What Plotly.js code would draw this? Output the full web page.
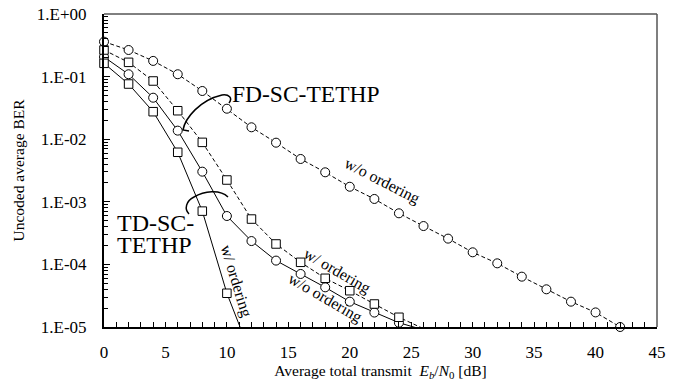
<!DOCTYPE html>
<html>
<head>
<meta charset="utf-8">
<script src="https://cdn.plot.ly/plotly-3.0.1.min.js"></script>
<style>html,body{margin:0;padding:0;background:#fff;}#chart{width:681px;height:381px;}</style>
</head>
<body>
<div id="chart"></div>
<script>
// ---- Data ----
const xFdWo = [0,2,4,6,8,10,12,14,16,18,20,22,24,26,28,30,32,34,36,38,40,42];
const berFdWo = [0.361,0.266,0.178,0.109,0.0589,0.0307,0.0155,8.8e-3,4.83e-3,2.96e-3,1.74e-3,1.11e-3,6.55e-4,4.1e-4,2.58e-4,1.56e-4,1.04e-4,6.37e-5,4.0e-5,2.54e-5,1.71e-5,1.0e-5];

const xFdW = [0,2,4,6,8,10,12,14,16,18,20,22,24,26];
const berFdW = [0.266,0.169,0.0851,0.0285,0.0089,2.23e-3,5.3e-4,2.12e-4,1.08e-4,6.0e-5,3.8e-5,2.33e-5,1.43e-5,9.4e-6];

const xTdWo = [0,2,4,6,8,10,12,14,16,18,20,22,24,26];
const berTdWo = [0.206,0.109,0.046,0.0137,3.03e-3,5.93e-4,2.36e-4,1.15e-4,7.03e-5,4.3e-5,2.54e-5,1.7e-5,1.17e-5,9.0e-6];

const xTdW = [0,2,4,6,8,10,12];
const berTdW = [0.163,0.0761,0.0275,0.00618,7.1e-4,3.46e-5,3.4e-6];

// last point of these series is only the continuation of the line (no marker)
const tailFdW = true, tailTdWo = true, tailTdW = true;

const yTickVals = [1,0.1,0.01,0.001,0.0001,0.00001];
const yTickText = ['1.E+00','1.E-01','1.E-02','1.E-03','1.E-04','1.E-05'];
const xTickVals = [0,5,10,15,20,25,30,35,40,45];

// ---- Styling ----
const FONT = '"Liberation Serif", "Times New Roman", serif';
const W = 681, H = 381, ML = 104, MR = 24, MT = 14, MB = 54;
const PW = W - ML - MR, PH = H - MT - MB;
function px(x){ return (x - ML) / PW; }
function py(y){ return (MT + PH - y) / PH; }
function P(x,y){ return px(x).toFixed(4) + ',' + py(y).toFixed(4); }

function sizes(n, s, tail){ return Array.from({length:n}, (_,i)=> (tail && i===n-1) ? 0 : s); }

const CIRC = 9, SQ = 8.5;
function trace(x, y, sym, sz, dash, tail){
  return {
    x: x, y: y, type: 'scatter', mode: 'lines+markers',
    line: {color: '#000', width: 1, dash: dash},
    marker: {symbol: sym, size: sizes(x.length, sz, tail), color: '#fff', opacity: 1, line: {color: '#000', width: 1}},
    cliponaxis: false, showlegend: false, hoverinfo: 'skip'
  };
}

const data = [
  trace(xFdWo, berFdWo, 'circle', CIRC, '4px,2.5px', false),
  trace(xTdWo, berTdWo, 'circle', CIRC, 'solid', tailTdWo),
  trace(xFdW, berFdW, 'square', SQ, '4px,2.5px', tailFdW),
  trace(xTdW, berTdW, 'square', SQ, 'solid', tailTdW)
];

// minor tick values for the log axis
const yMinor = [];
for (let e = -5; e < 0; e++) for (let m = 2; m <= 9; m++) yMinor.push(m * Math.pow(10, e));

function lab(text, x, y, angle, size, xa){
  return {xref:'paper', yref:'paper', x: px(x), y: py(y), text: text, showarrow: false,
    textangle: angle || 0, xanchor: xa || 'center', yanchor: 'middle',
    font: {family: FONT, size: size || 16, color: '#000'}};
}

const layout = {
  width: W, height: H,
  margin: {l: ML, r: MR, t: MT, b: MB, pad: 0},
  paper_bgcolor: '#fff', plot_bgcolor: '#fff',
  font: {family: FONT, color: '#000', size: 17},
  xaxis: {
    range: [0, 45], tickvals: xTickVals, ticks: 'inside', ticklen: 5, tickwidth: 1, tickcolor: '#000',
    minor: {dtick: 1, ticks: 'inside', ticklen: 5, tickwidth: 1, tickcolor: '#000', showgrid: false},
    showline: true, linecolor: '#000', linewidth: 2, showgrid: false, zeroline: false,
    ticklabelstandoff: 9,
    tickfont: {family: FONT, size: 17, color: '#000'},
    title: {text: 'Average total transmit  <i>E<sub>b</sub></i>/<i>N</i><sub>0</sub> [dB]', font: {family: FONT, size: 15.5, color: '#000'}, standoff: 4}
  },
  yaxis: {
    type: 'log', range: [-5, 0], tickvals: yTickVals, ticktext: yTickText,
    ticks: 'inside', ticklen: 6, tickwidth: 1, tickcolor: '#000',
    minor: {tickvals: yMinor, ticks: 'inside', ticklen: 4, tickwidth: 1, tickcolor: '#000', showgrid: false},
    showline: true, linecolor: '#000', linewidth: 2, showgrid: false, zeroline: false,
    ticklabelstandoff: 12,
    tickfont: {family: FONT, size: 17, color: '#000'},
    title: {text: 'Uncoded average BER', font: {family: FONT, size: 15.5, color: '#000'}, standoff: 8}
  },
  shapes: [
    {type:'line', xref:'paper', yref:'paper', x0:0, x1:1, y0:1, y1:1, line:{color:'#000', width:1}},
    {type:'line', xref:'paper', yref:'paper', x0:1, x1:1, y0:0, y1:1, line:{color:'#555', width:1.5}},
    {type:'path', xref:'paper', yref:'paper', line:{color:'#000', width:1.5},
      path: 'M' + P(189,131) + ' L' + P(183,130) + ' C' + P(185,118) + ' ' + P(200,100) + ' ' + P(222,95) + ' C' + P(229,94) + ' ' + P(233,98) + ' ' + P(229,103)},
    {type:'path', xref:'paper', yref:'paper', line:{color:'#000', width:1.5},
      path: 'M' + P(189,214) + ' C' + P(184,209) + ' ' + P(186,201) + ' ' + P(194,197) + ' C' + P(204,191) + ' ' + P(220,189) + ' ' + P(228,197)}
  ],
  annotations: [
    lab('FD-SC-TETHP', 230, 94, 0, 23.5, 'left'),
    lab('TD-SC-', 115, 223, 0, 24, 'left'),
    lab('TETHP', 115, 245, 0, 24, 'left'),
    lab('w/o ordering', 382, 181, 27, 16),
    lab('w/ ordering', 236, 281, 73, 16),
    lab('w/ ordering', 337, 271, 30, 16),
    lab('w/o ordering', 325, 298, 30, 16)
  ]
};

Plotly.newPlot('chart', data, layout, {displayModeBar: false, staticPlot: true});
</script>
</body>
</html>
